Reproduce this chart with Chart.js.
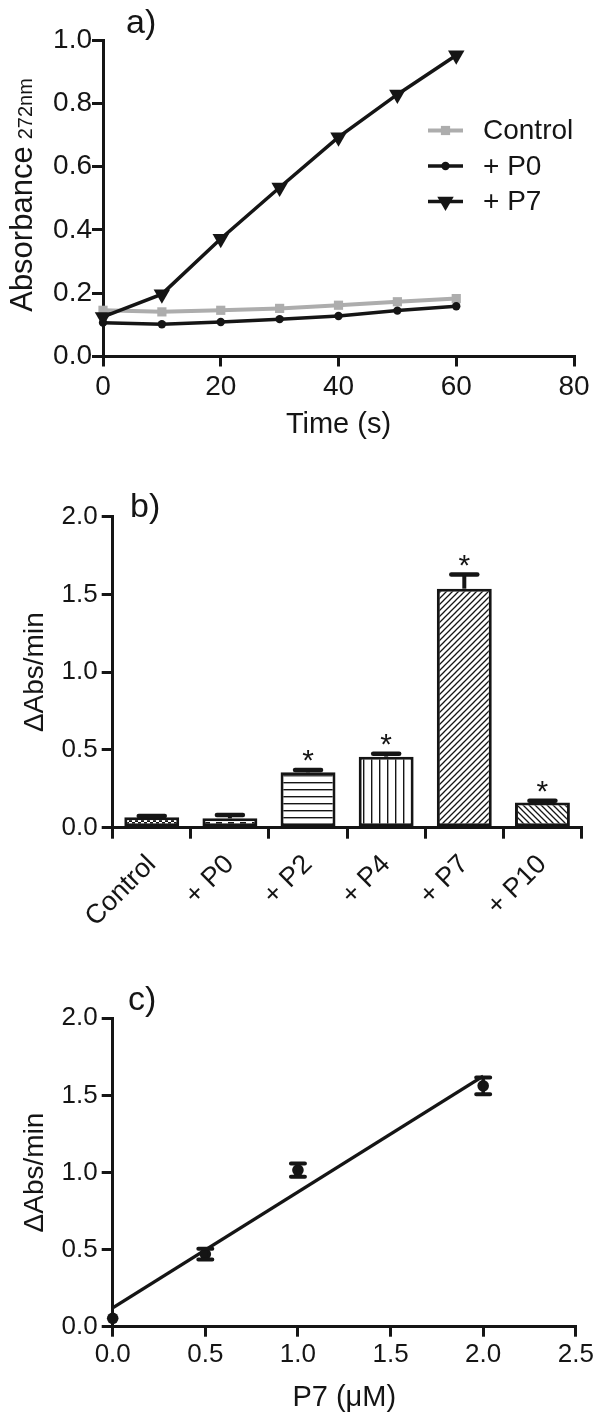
<!DOCTYPE html>
<html><head><meta charset="utf-8">
<script src="https://cdn.jsdelivr.net/npm/chart.js@4.4.1/dist/chart.umd.min.js"></script>
<style>
html,body{margin:0;padding:0;background:#fff;}
body{width:602px;height:1419px;position:relative;overflow:hidden;}
canvas{position:absolute;left:0;}
</style></head><body>
<canvas id="ca" width="602" height="450" style="top:0px"></canvas>
<canvas id="cb" width="602" height="500" style="top:450px"></canvas>
<canvas id="cc" width="602" height="469" style="top:950px"></canvas>
<script>
// ---------- DATA ----------
// panel a
const timeS = [0, 10, 20, 30, 40, 50, 60];
const absControl = [0.146, 0.141, 0.146, 0.152, 0.162, 0.173, 0.183];
const absP0 = [0.107, 0.102, 0.109, 0.118, 0.128, 0.145, 0.159];
const absP7 = [0.125, 0.197, 0.372, 0.534, 0.693, 0.828, 0.952];
const seriesNamesA = ['Control', '+ P0', '+ P7'];
// panel b
const barCategories = ['Control', '+ P0', '+ P2', '+ P4', '+ P7', '+ P10'];
const barRates = [0.067, 0.060, 0.356, 0.457, 1.537, 0.162];
const barErrors = [0.008, 0.022, 0.015, 0.018, 0.091, 0.011];
const barSignificant = [false, false, true, true, true, true];
// panel c
const p7Conc = [0, 0.5, 1.0, 2.0];
const p7Rates = [0.054, 0.471, 1.016, 1.562];
const p7Errors = [0, 0.035, 0.043, 0.054];
const fitConc = [0, 2.0];
const fitRates = [0.122, 1.625];

// ---------- STYLE ----------
const FONT = "'Liberation Sans', Arial, Helvetica, sans-serif";
const INK = '#151515';
const GRAY = '#adadad';
Chart.defaults.font.family = FONT;
Chart.defaults.color = INK;

function axisStyle(tickLen) {
  return {
    border: {display: true, color: INK, width: 3},
    grid: {display: true, drawOnChartArea: false, drawTicks: true, tickLength: tickLen,
           tickWidth: 3, tickColor: INK, color: INK, lineWidth: 3}
  };
}
const fmt1 = v => Number(v).toFixed(1);

function panelLabel(text, x, y) {
  return {
    id: 'panelLabel' + text.charAt(0),
    afterDraw(chart) {
      const ctx = chart.ctx;
      ctx.save();
      ctx.font = '34px ' + FONT;
      ctx.fillStyle = INK;
      ctx.textAlign = 'left';
      ctx.textBaseline = 'alphabetic';
      ctx.fillText(text, x, y);
      ctx.restore();
    }
  };
}

// ---------- PANEL A ----------
const legendRowsA = [130.5, 166, 201.5];
const legendA = {
  id: 'legendA',
  afterDraw(chart) {
    const ctx = chart.ctx;
    ctx.save();
    chart.data.datasets.forEach((ds, i) => {
      const y = legendRowsA[i];
      ctx.strokeStyle = ds.borderColor;
      ctx.lineWidth = ds.borderWidth;
      ctx.beginPath(); ctx.moveTo(428, y); ctx.lineTo(463, y); ctx.stroke();
      ctx.fillStyle = ds.backgroundColor;
      Chart.helpers.drawPoint(ctx, {pointStyle: ds.pointStyle, rotation: ds.pointRotation || 0,
        radius: ds.pointRadius, borderWidth: 0}, 445.5, y);
      ctx.fillStyle = INK;
      ctx.font = '28px ' + FONT;
      ctx.textAlign = 'left';
      ctx.textBaseline = 'middle';
      ctx.fillText(ds.label, 483, y + 1);
    });
    ctx.restore();
  }
};
const yTitleA = {
  id: 'yTitleA',
  afterDraw(chart) {
    const ctx = chart.ctx;
    ctx.save();
    ctx.fillStyle = INK;
    ctx.translate(32, 195);
    ctx.rotate(-Math.PI / 2);
    ctx.font = '31px ' + FONT;
    const w1 = ctx.measureText('Absorbance').width;
    ctx.font = '20px ' + FONT;
    const w2 = ctx.measureText('272nm').width;
    const gap = 7;
    const start = -(w1 + gap + w2) / 2;
    ctx.textAlign = 'left';
    ctx.textBaseline = 'alphabetic';
    ctx.font = '31px ' + FONT;
    ctx.fillText('Absorbance', start, 0);
    ctx.font = '20px ' + FONT;
    ctx.fillText('272nm', start + w1 + gap, 0);
    ctx.restore();
  }
};

new Chart(document.getElementById('ca'), {
  type: 'line',
  data: {
    datasets: [
      {label: seriesNamesA[0], data: timeS.map((t, i) => ({x: t, y: absControl[i]})),
       borderColor: GRAY, backgroundColor: GRAY, borderWidth: 4, pointStyle: 'rect',
       pointRadius: 6.5, pointBorderWidth: 0, order: 3, clip: false, tension: 0},
      {label: seriesNamesA[1], data: timeS.map((t, i) => ({x: t, y: absP0[i]})),
       borderColor: INK, backgroundColor: INK, borderWidth: 3.5, pointStyle: 'circle',
       pointRadius: 4.2, pointBorderWidth: 0, order: 2, clip: false, tension: 0},
      {label: seriesNamesA[2], data: timeS.map((t, i) => ({x: t, y: absP7[i]})),
       borderColor: INK, backgroundColor: INK, borderWidth: 3.5, pointStyle: 'triangle',
       pointRotation: 180, pointRadius: 9.5, pointBorderWidth: 0, order: 1, clip: false, tension: 0}
    ]
  },
  options: {
    responsive: false, animation: false, devicePixelRatio: 1,
    layout: {padding: {left: 0, top: 40, right: 28, bottom: 0}},
    plugins: {legend: {display: false}, tooltip: {enabled: false}},
    scales: {
      x: Object.assign({
        type: 'linear', min: 0, max: 80,
        ticks: {stepSize: 20, font: {size: 28}, padding: 4, color: INK},
        title: {display: true, text: 'Time (s)', font: {size: 29}, color: INK, padding: {top: 0, bottom: 8}},
        afterFit(s) { s.height = 450 - 356.5; }
      }, axisStyle(10)),
      y: Object.assign({
        min: 0, max: 1.0,
        ticks: {stepSize: 0.2, font: {size: 28}, padding: 0, color: INK, callback: fmt1},
        afterFit(s) { s.width = 103; }
      }, axisStyle(11))
    }
  },
  plugins: [legendA, yTitleA, panelLabel('a)', 126, 33)]
});

// ---------- PANEL B ----------
function makePattern(kind) {
  const c = document.createElement('canvas');
  const g = c.getContext('2d');
  const bg = (w, h) => { c.width = w; c.height = h; g.fillStyle = '#fff'; g.fillRect(0, 0, w, h); g.fillStyle = INK; g.strokeStyle = INK; };
  if (kind === 'checker') {
    bg(6, 6); g.fillRect(0, 0, 3, 3); g.fillRect(3, 3, 3, 3);
  } else if (kind === 'brick') {
    bg(12, 6); g.fillRect(0, 0, 6, 2); g.fillRect(6, 3, 6, 2);
  } else if (kind === 'hline') {
    bg(7, 7); g.fillRect(0, 3, 7, 1.4);
  } else if (kind === 'vline') {
    bg(8, 8); g.fillRect(3, 0, 1.4, 8);
  } else if (kind === 'fdiag' || kind === 'bdiag') {
    const p = 6; bg(p, p); g.lineWidth = 1.3;
    g.beginPath();
    if (kind === 'fdiag') {
      g.moveTo(-1, p + 1); g.lineTo(p + 1, -1);
      g.moveTo(-1, 1); g.lineTo(1, -1);
      g.moveTo(p - 1, p + 1); g.lineTo(p + 1, p - 1);
    } else {
      g.moveTo(-1, -1); g.lineTo(p + 1, p + 1);
      g.moveTo(-1, p - 1); g.lineTo(1, p + 1);
      g.moveTo(p - 1, -1); g.lineTo(p + 1, 1);
    }
    g.stroke();
  }
  return g.createPattern(c, 'repeat');
}
const barFills = ['checker', 'brick', 'hline', 'vline', 'fdiag', 'bdiag'].map(makePattern);

const barExtras = {
  id: 'barExtras',
  afterDatasetsDraw(chart) {
    const ctx = chart.ctx;
    const xs = chart.scales.x, ys = chart.scales.y;
    ctx.save();
    ctx.strokeStyle = INK; ctx.fillStyle = INK;
    barRates.forEach((v, i) => {
      const x = xs.getPixelForValue(i);
      const yTop = ys.getPixelForValue(v);
      const yErr = ys.getPixelForValue(v + barErrors[i]);
      ctx.lineWidth = 4;
      ctx.lineCap = 'butt';
      ctx.beginPath(); ctx.moveTo(x, yTop); ctx.lineTo(x, yErr); ctx.stroke();
      ctx.lineWidth = 4.5; ctx.lineCap = 'round';
      ctx.beginPath(); ctx.moveTo(x - 13, yErr); ctx.lineTo(x + 13, yErr); ctx.stroke();
      if (barSignificant[i]) {
        ctx.font = '30px ' + FONT;
        ctx.textAlign = 'center';
        ctx.textBaseline = 'alphabetic';
        ctx.fillText('*', x, yErr);
      }
    });
    ctx.restore();
  }
};

new Chart(document.getElementById('cb'), {
  type: 'bar',
  data: {
    labels: barCategories,
    datasets: [{data: barRates, backgroundColor: barFills, borderColor: INK, borderWidth: 3,
                borderSkipped: false, barPercentage: 0.703, categoryPercentage: 1}]
  },
  options: {
    responsive: false, animation: false, devicePixelRatio: 1,
    layout: {padding: {left: 0, top: 66.7, right: 20.5, bottom: 0}},
    plugins: {legend: {display: false}, tooltip: {enabled: false}},
    scales: {
      x: Object.assign({
        type: 'category', offset: true,
        ticks: {font: {size: 27}, padding: 10, color: INK, minRotation: 45, maxRotation: 45, autoSkip: false},
        afterFit(s) { s.height = 500 - 377.7; }
      }, axisStyle(11)),
      y: Object.assign({
        min: 0, max: 2.0,
        ticks: {stepSize: 0.5, font: {size: 26}, padding: 4, color: INK, callback: fmt1},
        title: {display: true, text: 'ΔAbs/min', font: {size: 28}, color: INK, padding: {top: 18, bottom: 0}},
        afterFit(s) { s.width = 112.7; }
      }, axisStyle(11))
    }
  },
  plugins: [barExtras, panelLabel('b)', 130, 517 - 450)]
});

// ---------- PANEL C ----------
const errC = {
  id: 'errC',
  afterDatasetsDraw(chart) {
    const ctx = chart.ctx;
    const xs = chart.scales.x, ys = chart.scales.y;
    ctx.save();
    ctx.strokeStyle = INK;
    p7Conc.forEach((c, i) => {
      if (!p7Errors[i]) return;
      const x = xs.getPixelForValue(c);
      const y1 = ys.getPixelForValue(p7Rates[i] + p7Errors[i]);
      const y2 = ys.getPixelForValue(p7Rates[i] - p7Errors[i]);
      ctx.lineWidth = 3.5; ctx.lineCap = 'butt';
      ctx.beginPath(); ctx.moveTo(x, y1); ctx.lineTo(x, y2); ctx.stroke();
      ctx.lineWidth = 4; ctx.lineCap = 'round';
      ctx.beginPath();
      ctx.moveTo(x - 7, y1); ctx.lineTo(x + 7, y1);
      ctx.moveTo(x - 7, y2); ctx.lineTo(x + 7, y2);
      ctx.stroke();
    });
    ctx.restore();
  }
};

new Chart(document.getElementById('cc'), {
  type: 'scatter',
  data: {
    datasets: [
      {data: p7Conc.map((c, i) => ({x: c, y: p7Rates[i]})), backgroundColor: INK, borderColor: INK,
       pointRadius: 5.8, pointBorderWidth: 0, showLine: false, clip: false, order: 1},
      {data: fitConc.map((c, i) => ({x: c, y: fitRates[i]})), borderColor: INK, backgroundColor: INK,
       borderWidth: 3.5, pointRadius: 0, showLine: true, clip: false, order: 2}
    ]
  },
  options: {
    responsive: false, animation: false, devicePixelRatio: 1,
    layout: {padding: {left: 0, top: 68.3, right: 26.2, bottom: 0}},
    plugins: {legend: {display: false}, tooltip: {enabled: false}},
    scales: {
      x: Object.assign({
        type: 'linear', min: 0, max: 2.5,
        ticks: {stepSize: 0.5, font: {size: 26}, padding: 3, color: INK, callback: fmt1},
        title: {display: true, text: 'P7 (μM)', font: {size: 29}, color: INK, padding: {top: 0, bottom: 4}},
        afterFit(s) { s.height = 469 - 376.7; }
      }, axisStyle(10)),
      y: Object.assign({
        min: 0, max: 2.0,
        ticks: {stepSize: 0.5, font: {size: 26}, padding: 4, color: INK, callback: fmt1},
        title: {display: true, text: 'ΔAbs/min', font: {size: 28}, color: INK, padding: {top: 18, bottom: 0}},
        afterFit(s) { s.width = 112.7; }
      }, axisStyle(11))
    }
  },
  plugins: [errC, panelLabel('c)', 128, 1010 - 950)]
});
</script>
</body></html>
